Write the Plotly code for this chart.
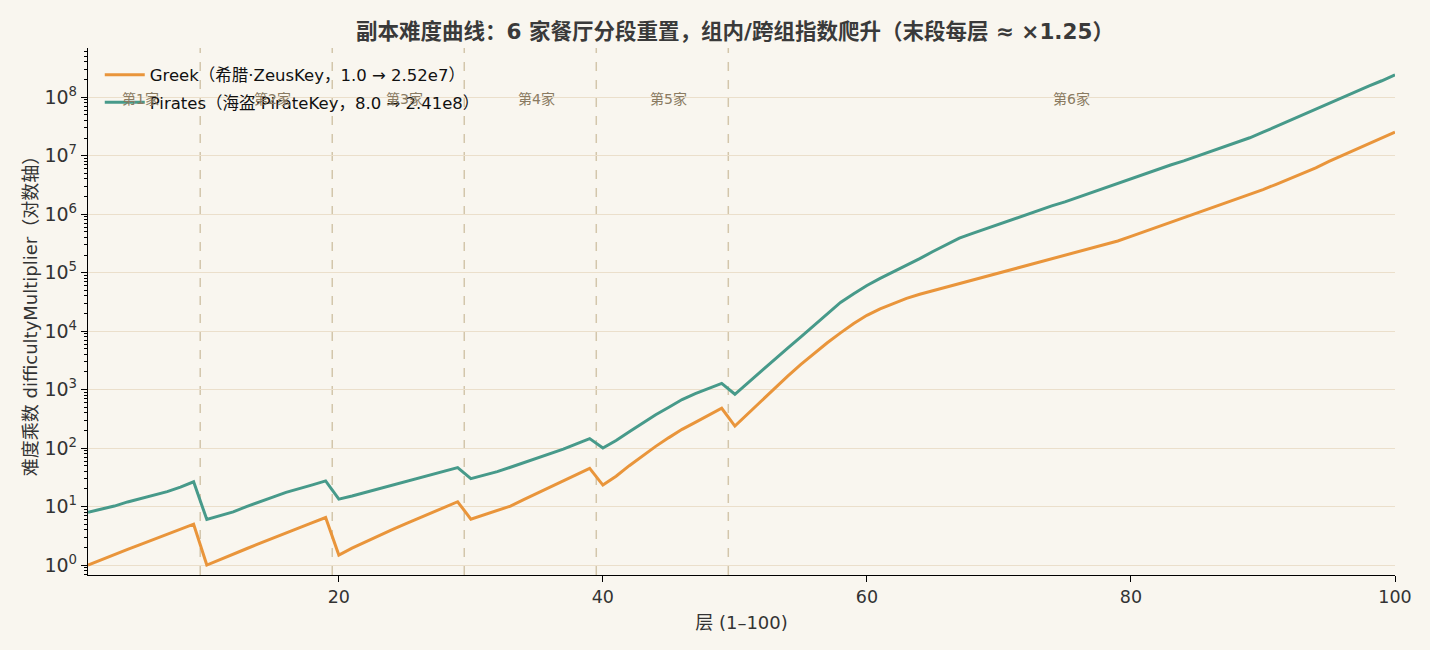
import plotly.graph_objects as go

floors = list(range(1, 101))

greek = [
    1.0, 1.24, 1.52, 1.85, 2.25, 2.75, 3.35, 4.1, 5.0,
    1.0, 1.25, 1.55, 1.9, 2.35, 2.9, 3.5, 4.3, 5.3, 6.5,
    1.48, 1.95, 2.5, 3.2, 4.0, 5.0, 6.2, 7.7, 9.7, 12.1,
    6.1, 7.2, 8.5, 10.2, 13.1, 16.7, 21.4, 27.4, 35.1, 45.0,
    23.3, 33, 50, 74, 107, 151, 209, 275, 363, 479,
    238, 389, 646, 1047, 1698, 2692, 4169, 6310, 9333, 13490,
    18620, 23990, 29510, 36310, 42660, 48980, 56230, 64570, 74130, 85110,
    97720, 1.122e5, 1.288e5, 1.479e5, 1.698e5, 1.995e5, 2.291e5, 2.630e5, 3.020e5, 3.467e5,
    4.169e5, 5.012e5, 6.026e5, 7.244e5, 8.710e5, 1.023e6, 1.230e6, 1.479e6, 1.778e6, 2.138e6,
    2.630e6, 3.236e6, 3.981e6, 4.898e6, 6.166e6, 7.943e6, 1.0e7, 1.259e7, 1.585e7, 1.995e7,
    2.52e7,
]

pirates = [
    8.0, 9.0, 10.2, 12.0, 13.8, 15.5, 18.0, 21.5, 26.5,
    6.0, 7.0, 8.1, 10.0, 12.2, 14.5, 17.5, 20.0, 23.5, 27.5,
    13.4, 15.2, 17.5, 20.0, 23.0, 26.5, 30.5, 35.0, 40.0, 46.5,
    30.0, 34.5, 39.5, 47.0, 56.0, 67.0, 80.0, 96.0, 118, 145,
    100, 135, 190, 270, 372, 500, 676, 851, 1047, 1274,
    832, 1318, 2089, 3311, 5129, 7943, 12590, 19950, 30900, 43650,
    60260, 79430, 1.023e5, 1.349e5, 1.738e5, 2.291e5, 2.951e5, 3.890e5, 4.677e5, 5.623e5,
    6.607e5, 7.943e5, 9.550e5, 1.148e6, 1.380e6, 1.622e6, 1.950e6, 2.344e6, 2.818e6, 3.388e6,
    3.981e6, 4.786e6, 5.754e6, 6.918e6, 8.128e6, 9.772e6, 1.175e7, 1.413e7, 1.698e7, 2.018e7,
    2.512e7, 3.162e7, 3.981e7, 5.012e7, 6.166e7, 7.762e7, 9.772e7, 1.230e8, 1.549e8, 1.905e8,
    2.41e8,
]

segment_bounds = [9.5, 19.5, 29.5, 39.5, 49.5]
segment_labels = ["第1家", "第2家", "第3家", "第4家", "第5家", "第6家"]
segment_centers = [5, 15, 25, 35, 45, 75.5]

series_names = [
    "Greek（希腊·ZeusKey，1.0 → 2.52e7）",
    "Pirates（海盗·PirateKey，8.0 → 2.41e8）",
]

FONT = "DejaVu Sans, Noto Sans CJK SC, sans-serif"
BG = "#f9f6ef"

fig = go.Figure()
fig.add_trace(go.Scatter(x=floors, y=greek, mode="lines", name=series_names[0],
                         legendgroup="g", line=dict(color="#e9953b", width=3)))
fig.add_trace(go.Scatter(x=floors, y=pirates, mode="lines", name=series_names[1],
                         legendgroup="p", line=dict(color="#479a8a", width=3)))

for b in segment_bounds:
    fig.add_shape(type="line", xref="x", yref="paper", x0=b, x1=b, y0=0, y1=1,
                  line=dict(color="#d3c6ab", width=1.5, dash="dash"), layer="below")

for cx, lab in zip(segment_centers, segment_labels):
    fig.add_annotation(x=cx, y=0.903, xref="x", yref="paper", yanchor="middle",
                       text=lab, showarrow=False,
                       font=dict(size=14, color="#8a7b62", family=FONT))

major = [10 ** k for k in range(0, 9)]
major_text = ["10<sup>%d</sup>" % k for k in range(0, 9)]
minor = [m * 10 ** k for k in range(-1, 9) for m in range(2, 10)]

fig.update_layout(
    width=1430, height=650,
    paper_bgcolor=BG, plot_bgcolor=BG,
    margin=dict(l=88, r=35, t=48, b=75),
    font=dict(family=FONT, color="#333333"),
    title=dict(text="<b>副本难度曲线：6 家餐厅分段重置，组内/跨组指数爬升（末段每层 ≈ ×1.25）</b>",
               x=0.514, xanchor="center", y=0.951, yanchor="middle",
               font=dict(size=21.5, color="#3a3a3a", family=FONT)),
    showlegend=True,
    legend=dict(x=0.009, y=0.982, xanchor="left", yanchor="top", bgcolor="rgba(0,0,0,0)",
                font=dict(size=16.5, color="#111111", family=FONT),
                traceorder="grouped", tracegroupgap=3, itemwidth=40),
)

fig.update_xaxes(
    range=[1, 100], tickvals=[20, 40, 60, 80, 100],
    showgrid=False, zeroline=False,
    showline=True, linecolor="black", linewidth=1.3, mirror=False,
    ticks="outside", ticklen=6, tickcolor="black",
    tickfont=dict(size=17.5, color="#333333"),
    title=dict(text="层 (1–100)", font=dict(size=18, color="#333333"), standoff=10),
)

fig.update_yaxes(
    type="log", range=[-0.17, 8.84],
    tickmode="array", tickvals=major, ticktext=major_text,
    showgrid=True, gridcolor="#ebdfcb", gridwidth=1, zeroline=False,
    showline=True, linecolor="black", linewidth=1.3,
    ticks="outside", ticklen=6, tickcolor="black",
    tickfont=dict(size=19, color="#333333"),
    minor=dict(tickmode="array", tickvals=minor, ticks="outside", ticklen=3,
               tickcolor="black", showgrid=False),
    title=dict(text="难度乘数 difficultyMultiplier（对数轴）",
               font=dict(size=18, color="#333333"), standoff=2),
)

fig.write_html("out.html")
